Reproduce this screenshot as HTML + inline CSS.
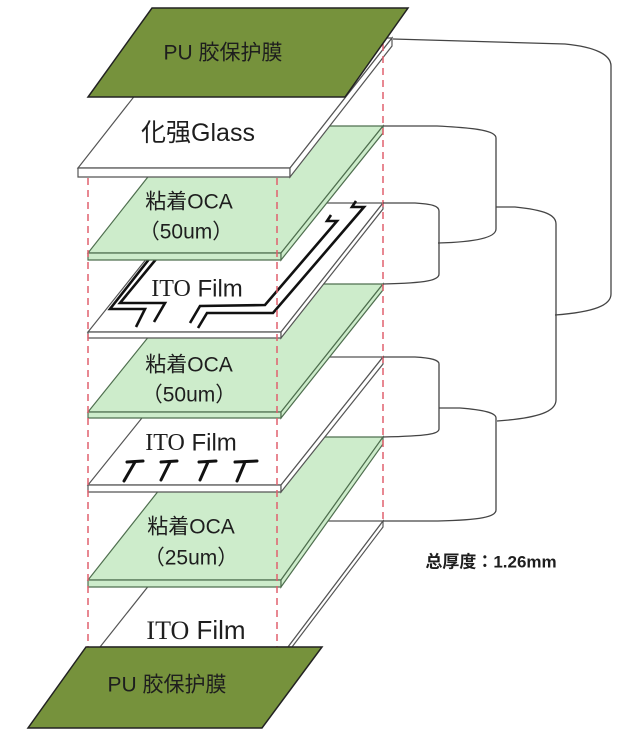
<!DOCTYPE html>
<html><head><meta charset="utf-8">
<style>
html,body{margin:0;padding:0;background:#fff;}
svg{display:block;}
text{font-family:"Liberation Sans","Noto Sans CJK JP",sans-serif;fill:#1e1e1e;}
</style></head>
<body>
<svg width="640" height="738" viewBox="0 0 640 738" xmlns="http://www.w3.org/2000/svg">
<rect width="640" height="738" fill="#fff"/>

<!-- ITO3 -->
<g stroke="#555" stroke-width="1.2" fill="#fff">
<polygon points="200,521 383,521 288,647 100,647"/>
<polygon points="288,647 383,521 383,527 292,647"/>
</g>
<!-- OCA3 -->
<g stroke="#4f6f4f" stroke-width="1.2" fill="#cdeccb">
<polygon points="201,437 383,437 281,580 88,580"/>
<polygon points="88,580 281,580 281,587 88,587"/>
<polygon points="281,580 383,437 383,444 281,587"/>
</g>
<!-- ITO2 -->
<g stroke="#555" stroke-width="1.2" fill="#fff">
<polygon points="191,357 383,357 281,485 88,485"/>
<polygon points="88,485 281,485 281,492 88,492"/>
<polygon points="281,485 383,357 383,364 281,492"/>
</g>
<g stroke="#111" stroke-width="3" stroke-linecap="round" fill="none">
<path d="M127,462 L143,461 M135,462 L124,481"/>
<path d="M161,462 L177,461 M170,462 L161,480"/>
<path d="M199,462 L216,461 M208,462 L200,480"/>
<path d="M235,462 L257,461 M245,462 L237,481"/>
</g>
<!-- OCA2 -->
<g stroke="#4f6f4f" stroke-width="1.2" fill="#cdeccb">
<polygon points="191,284 383,284 281,412 88,412"/>
<polygon points="88,412 281,412 281,418 88,418"/>
<polygon points="281,412 383,284 383,290 281,418"/>
</g>
<!-- ITO1 -->
<g stroke="#555" stroke-width="1.2" fill="#fff">
<polygon points="191,203 383,203 281,332 88,332"/>
<polygon points="88,332 281,332 281,338 88,338"/>
<polygon points="281,332 383,203 383,209 281,338"/>
</g>
<g stroke="#111" stroke-width="2.6" fill="none" stroke-linejoin="miter">
<polyline points="150,258 110,309 145,309 136,327"/>
<polyline points="157,258 120,303 165,303 154,322"/>
<polyline points="190,323 200,306 265,305 337,221 327,221 331,215"/>
<polyline points="198,328 207,313 273,313 364,207 352,207 356,201"/>
</g>
<!-- OCA1 -->
<g stroke="#4f6f4f" stroke-width="1.2" fill="#cdeccb">
<polygon points="188,126 383,126 281,253 88,253"/>
<polygon points="88,253 281,253 281,260 88,260"/>
<polygon points="281,253 383,126 383,133 281,260"/>
</g>
<!-- Glass -->
<g stroke="#555" stroke-width="1.2" fill="#fff">
<polygon points="180,38 392,38 290,168 78,168"/>
<polygon points="78,168 290,168 290,177 78,177"/>
<polygon points="290,168 392,38 392,46 290,177"/>
</g>

<!-- dashed guides -->
<g stroke="#e0606e" stroke-width="1.5" stroke-dasharray="7,5" fill="none">
<line x1="88" y1="178" x2="88" y2="647"/>
<line x1="277" y1="178" x2="277" y2="647"/>
<line x1="383" y1="44" x2="383" y2="524"/>
</g>

<!-- PU top -->
<polygon points="152,8 408,8 345,97 88,97" fill="#76923c" stroke="#222" stroke-width="1.5"/>
<!-- PU bottom -->
<polygon points="86,647 322,647 262,728 28,728" fill="#76923c" stroke="#222" stroke-width="1.5"/>

<!-- brackets -->
<g stroke="#444" stroke-width="1.3" fill="none">
<path d="M393,39 L565,44 C596,47 611,55 611,66 L611,294 C611,305 595,312 555,315"/>
<path d="M383,126 L437,126 C478,128 496,131 496,138 L496,229 C496,237 478,242 438,243"/>
<path d="M383,203 L415,203 C432,204 439,206 439,211 L439,274 C439,280 428,283 383,284"/>
<path d="M496,207 L515,207 C545,210 556,215 556,224 L556,400 C556,411 540,418 497,421"/>
<path d="M383,357 L415,357 C432,358 439,360 439,364 L439,429 C439,434 428,436 383,437"/>
<path d="M439,408 L460,408 C485,410 496,413 496,418 L496,510 C496,517 480,520 438,521 L383,521"/>
</g>

<!-- labels -->
<text x="223" y="53" font-size="21" text-anchor="middle" dominant-baseline="central">PU 胶保护膜</text>
<text x="198" y="133" font-size="25" text-anchor="middle" dominant-baseline="central" fill="#333">化强Glass</text>
<text x="189" y="202" font-size="21" text-anchor="middle" dominant-baseline="central">粘着OCA</text>
<text x="186" y="232" font-size="21" text-anchor="middle" dominant-baseline="central">（50um）</text>
<text x="197" y="289" font-size="24" text-anchor="middle" dominant-baseline="central"><tspan font-family="Liberation Serif, serif">ITO</tspan> Film</text>
<text x="189" y="365" font-size="21" text-anchor="middle" dominant-baseline="central">粘着OCA</text>
<text x="189" y="395" font-size="21" text-anchor="middle" dominant-baseline="central">（50um）</text>
<text x="191" y="443" font-size="24" text-anchor="middle" dominant-baseline="central"><tspan font-family="Liberation Serif, serif">ITO</tspan> Film</text>
<text x="191" y="527" font-size="21" text-anchor="middle" dominant-baseline="central">粘着OCA</text>
<text x="191" y="558" font-size="21" text-anchor="middle" dominant-baseline="central">（25um）</text>
<text x="196" y="630" font-size="26" text-anchor="middle" dominant-baseline="central"><tspan font-family="Liberation Serif, serif">ITO</tspan> Film</text>
<text x="167" y="685" font-size="21" text-anchor="middle" dominant-baseline="central">PU 胶保护膜</text>
<text x="491" y="562" font-size="17" font-weight="bold" text-anchor="middle" dominant-baseline="central" fill="#333">总厚度：1.26mm</text>
</svg>
</body></html>
